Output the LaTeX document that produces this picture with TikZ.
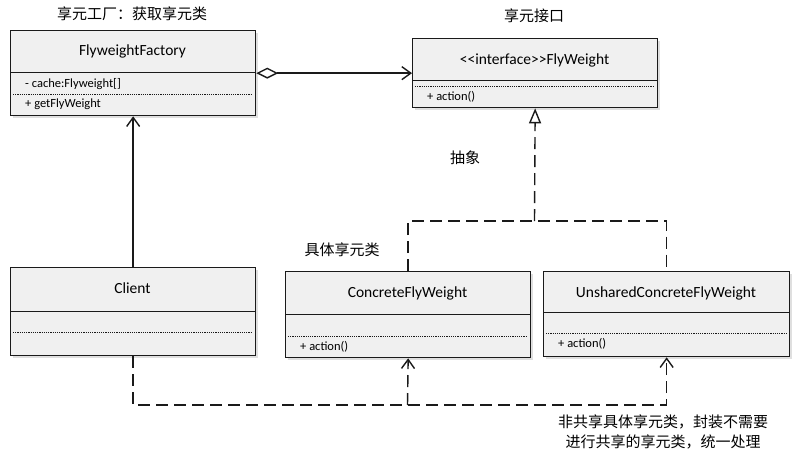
\documentclass[tikz,border=0pt]{standalone}
\usepackage{fontspec}
\setmainfont{Carlito}
\newfontfamily\cjk{Noto Sans CJK SC}
\usetikzlibrary{arrows.meta,shadows,positioning}
\definecolor{boxgray}{HTML}{F0F0F0}
\definecolor{edge}{HTML}{1A1A1A}

\begin{document}
\begin{tikzpicture}[x=1pt,y=-1pt,
  cls/.style={draw=edge,line width=1.3pt,fill=boxgray,anchor=north west,inner sep=0pt,
    drop shadow={shadow xshift=2pt,shadow yshift=-2pt,opacity=0.25}},
  clsname/.style={inner sep=0pt,font=\fontsize{15.5}{18}\selectfont},
  member/.style={anchor=west,inner sep=0pt,font=\fontsize{12.5}{14}\selectfont},
  note/.style={inner sep=0pt,font=\cjk\fontsize{15}{18}\selectfont},
  sepline/.style={draw=edge,line width=1pt},
  dotline/.style={draw=edge,line width=0.6pt,dash pattern=on 1.2pt off 1pt},
  solidcon/.style={draw=edge,line width=1.4pt},
  dashcon/.style={draw=edge,line width=1.4pt,dash pattern=on 12pt off 6pt},
  barb/.style={-{Straight Barb[length=9pt,width=13pt,line width=1.4pt]}}]
\useasboundingbox (0,0) rectangle (798,458);

% class boxes
\node[cls,minimum width=245,minimum height=85] (fac) at (10,30) {};
\node[cls,minimum width=245,minimum height=69] (int) at (412,38) {};
\node[cls,minimum width=245,minimum height=88] (cli) at (10,267) {};
\node[cls,minimum width=245,minimum height=86] (con) at (285,271) {};
\node[cls,minimum width=246,minimum height=85] (uns) at (543,271) {};

% FlyweightFactory
\node[clsname] (facname) at (132.5,51) {FlyweightFactory};
\draw[sepline] (10,72) -- (255,72);
\node[member] (faccache) at (25,84) {- cache:Flyweight[]};
\draw[dotline] (13,94) -- (252,94);
\node[member] (facget) at (25,104) {+ getFlyWeight};

% FlyWeight interface
\node[clsname] (intname) at (534.5,60) {<{}<interface>{}>FlyWeight};
\draw[sepline] (412,80) -- (657,80);
\draw[dotline] (415,86) -- (654,86);
\node[member] (intact) at (427,97) {+ action()};

% Client
\node[clsname] (cliname) at (132.5,288) {Client};
\draw[sepline] (10,311) -- (255,311);
\draw[dotline] (13,332) -- (252,332);

% ConcreteFlyWeight
\node[clsname] (conname) at (407.5,293) {ConcreteFlyWeight};
\draw[sepline] (285,314) -- (530,314);
\draw[dotline] (288,336) -- (527,336);
\node[member] (conact) at (300,347) {+ action()};

% UnsharedConcreteFlyWeight
\node[clsname] (unsname) at (666,293) {UnsharedConcreteFlyWeight};
\draw[sepline] (543,312) -- (789,312);
\draw[dotline] (546,333) -- (786,333);
\node[member] (unsact) at (558,344) {+ action()};

% labels
\node[note] (factitle) at (132,14) {享元工厂：获取享元类};
\node[note] (inttitle) at (534,16) {享元接口};
\node[note] (abstract) at (465,158) {抽象};
\node[note] (contitle) at (342,250) {具体享元类};
\node[note,align=center] (unsnote) at (663,432) {非共享具体享元类，封装不需要\\[2pt]进行共享的享元类，统一处理};

% connectors
\coordinate (join) at (534.5,221);
\coordinate (low) at (407.5,405);
\draw[solidcon,{Diamond[open,fill=white,length=22pt,width=11pt,line width=1.4pt]}-{Straight Barb[length=9pt,width=13pt,line width=1.4pt]}] (fac.east) -- (int.west);
\draw[solidcon,barb] (cli.north) -- (fac.south);
\draw[dashcon,-{Triangle[open,fill=white,length=15pt,width=12pt,line width=1.4pt]}] (join) -- (int.south);
\draw[dashcon] (con.north) |- (join) -| (uns.north);
\draw[dashcon,barb] (cli.south) |- (uns.south |- low) -- (uns.south);
\draw[dashcon,barb] (low) -- (con.south);

\end{tikzpicture}
\end{document}
